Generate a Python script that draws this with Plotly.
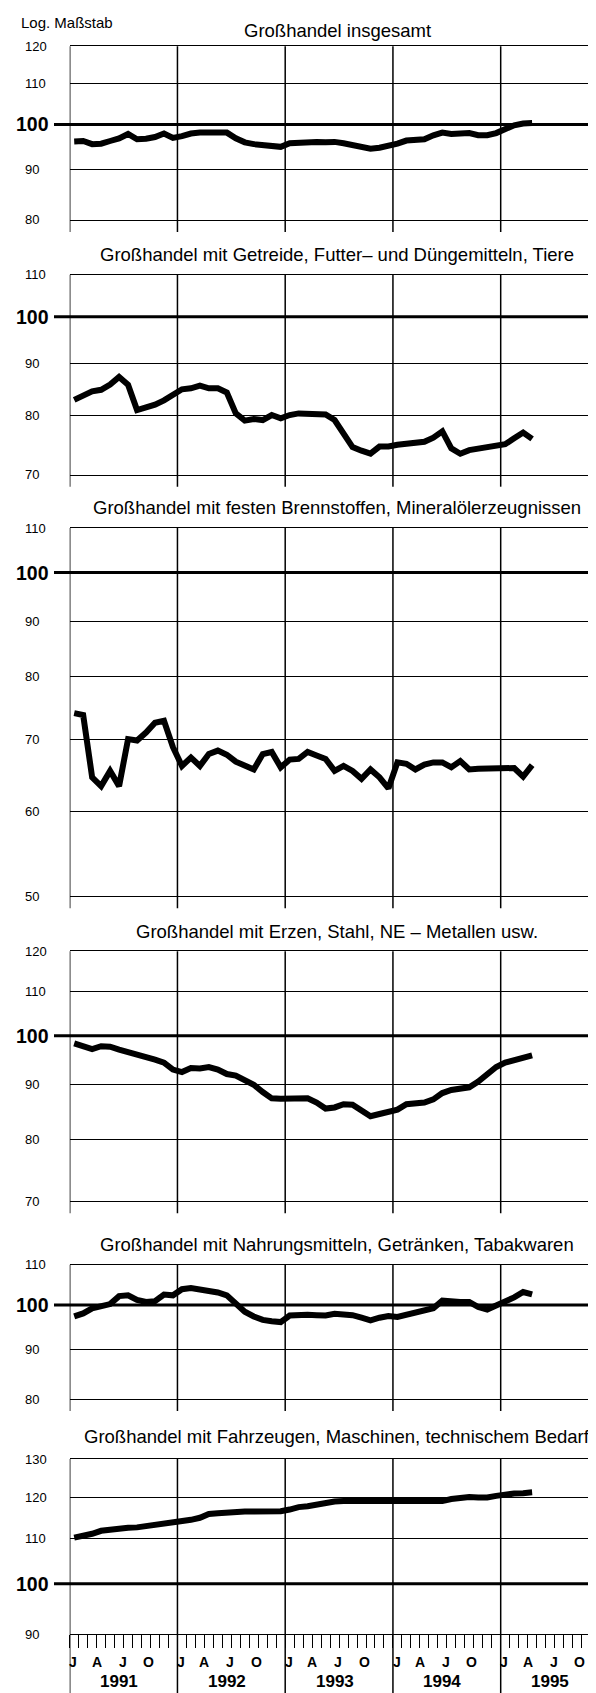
import math
import pandas as pd
import plotly.graph_objects as go

# ---------------- data ----------------
months = pd.period_range("1991-01", "1995-04", freq="M")
years = [1991, 1992, 1993, 1994, 1995]
month_labels = ["J", "A", "J", "O"]

insgesamt = [96.1, 96.2, 95.5, 95.6, 96.2, 96.8, 97.8, 96.6, 96.7, 97.1,
             97.9, 96.9, 97.3, 97.9, 98.1, 98.2, 98.3, 98.1, 96.8, 95.9,
             95.5, 95.4, 95.3, 94.9, 95.7, 95.9, 96.0, 96.0, 95.9, 96.0,
             95.7, 95.3, 94.8, 94.5, 94.7, 95.0, 95.6, 96.3, 96.4, 96.6,
             97.5, 98.1, 97.8, 97.9, 98.0, 97.5, 97.5, 98.0, 99.0, 99.8,
             100.2, 100.3]
getreide = [82.9, 83.8, 84.5, 84.8, 85.8, 87.3, 85.8, 81.0, 81.5, 82.0,
            82.8, 83.7, 84.9, 85.1, 85.6, 85.1, 85.1, 84.3, 80.4, 79.1,
            79.4, 79.2, 80.1, 79.5, 80.1, 80.4, 80.4, 80.3, 80.2, 79.2,
            76.6, 74.5, 73.9, 73.4, 74.6, 74.6, 74.9, 75.0, 75.2, 75.4,
            76.1, 77.2, 74.3, 73.4, 74.0, 74.2, 74.4, 74.6, 75.0, 76.0,
            77.0, 75.9]
brennstoffe = [74.0, 73.7, 64.5, 63.3, 65.4, 63.3, 70.0, 69.8, 71.0, 72.5,
               72.8, 68.8, 66.1, 67.3, 66.1, 67.8, 68.3, 67.7, 66.7, 66.1,
               65.6, 67.8, 68.1, 65.9, 67.0, 67.1, 68.1, 67.6, 67.1, 65.4,
               66.1, 65.4, 64.3, 65.6, 64.5, 63.0, 66.6, 66.4, 65.6, 66.3,
               66.6, 66.6, 65.9, 66.8, 65.6, 65.7, 65.7, 65.8, 65.8, 65.8,
               64.6, 66.2]
erze = [98.4, 97.7, 97.2, 97.8, 97.7, 97.1, 96.6, 96.1, 95.8, 95.0,
        94.4, 93.0, 92.5, 93.3, 93.2, 93.5, 93.0, 92.1, 91.8, 90.9,
        90.0, 88.6, 87.4, 87.3, 87.3, 87.3, 87.4, 86.6, 85.5, 85.7,
        86.3, 86.2, 85.0, 84.1, 84.5, 84.8, 85.3, 86.3, 86.4, 86.6,
        87.2, 88.4, 89.0, 89.2, 89.5, 90.6, 92.0, 93.5, 94.4, 94.9,
        95.7, 95.9]
nahrung = [97.3, 98.0, 99.2, 99.7, 100.2, 102.1, 102.3, 101.2, 100.7, 100.9,
           102.5, 102.3, 103.8, 104.1, 103.8, 103.5, 103.0, 102.3, 100.2, 98.4,
           97.3, 96.5, 96.2, 96.0, 97.5, 97.7, 97.7, 97.6, 97.5, 97.9,
           97.9, 97.6, 97.0, 96.4, 97.0, 97.4, 97.2, 97.7, 98.2, 98.5,
           99.2, 101.0, 100.7, 100.7, 100.7, 99.5, 98.9, 99.8, 100.7, 101.8,
           103.1, 102.5]
fahrzeuge = [110.2, 110.5, 111.1, 111.8, 112.1, 112.3, 112.5, 112.6, 112.9, 113.3,
             113.4, 113.6, 113.9, 114.4, 114.9, 115.8, 116.0, 116.2, 116.3, 116.4,
             116.4, 116.4, 116.4, 116.5, 116.9, 117.5, 117.7, 118.2, 118.6, 118.9,
             119.0, 119.0, 119.0, 119.0, 119.0, 119.0, 118.9, 118.9, 118.9, 119.0,
             119.0, 119.0, 119.5, 119.8, 120.0, 119.9, 119.9, 120.3, 120.7, 120.9,
             121.0, 121.2]

titles = [
    "Großhandel insgesamt",
    "Großhandel mit Getreide, Futter– und Düngemitteln, Tiere",
    "Großhandel mit festen Brennstoffen, Mineralölerzeugnissen",
    "Großhandel mit Erzen, Stahl, NE – Metallen usw.",
    "Großhandel mit Nahrungsmitteln, Getränken, Tabakwaren",
    "Großhandel mit Fahrzeugen, Maschinen, technischem Bedarf",
]
series = [insgesamt, getreide, brennstoffe, erze, nahrung, fahrzeuge]
grid_levels = [
    [80, 90, 100, 110, 120],
    [70, 80, 90, 100, 110],
    [50, 60, 70, 80, 90, 100, 110],
    [70, 80, 90, 100, 110, 120],
    [80, 90, 100, 110],
    [90, 100, 110, 120, 130],
]
scale_note = "Log. Maßstab"

# ---------------- layout geometry (pixels) ----------------
W, H = 596, 1693
X0 = 61.7            # left edge of plot area
MONTH_PX = 8.979     # width of one month
panel_px = [(38.3, 212.0), (266.7, 466.7), (520.0, 888.3),
            (943.3, 1193.3), (1256.7, 1391.0), (1451.0, 1626.0)]
title_px = [22.0, 246.0, 499.5, 923.0, 1236.0, 1428.5]
EXT = 12             # vertical grid lines hang below each panel
FONT = "Liberation Sans, Arial, sans-serif"
TITLE_X = 329

x_max = (W - X0) / MONTH_PX
x_pos = [(p.year - years[0]) * 12 + (p.month - 1) + 0.5 for p in months]
year_starts = [(y - years[0]) * 12 for y in years]
month_offsets = [0.4, 3.0, 5.9, 8.8]


def py(px):
    return 1 - px / H


fig = go.Figure()
shapes = []
annotations = []
n = len(series)

for k in range(1, n + 1):
    top, bot = panel_px[k - 1]
    levels = grid_levels[k - 1]
    xr = "x" if k == 1 else f"x{k}"
    yr = "y" if k == 1 else f"y{k}"
    xa = "xaxis" if k == 1 else f"xaxis{k}"
    ya = "yaxis" if k == 1 else f"yaxis{k}"
    last = k == n

    fig.add_trace(go.Scatter(
        x=x_pos, y=series[k - 1], mode="lines", xaxis=xr, yaxis=yr,
        line=dict(color="black", width=6), showlegend=False,
        hoverinfo="skip"))

    fig.update_layout(**{
        xa: dict(domain=[X0 / W, 1], range=[0, x_max], anchor=yr,
                 showgrid=False, zeroline=False, showticklabels=False,
                 showline=True, mirror=True, linecolor="black", linewidth=1.3,
                 ticks="outside" if last else "",
                 tickmode="array", tickvals=list(range(0, 61)),
                 ticklen=13, tickwidth=1.3, tickcolor="black",
                 fixedrange=True),
        ya: dict(type="log", domain=[py(bot), py(top)],
                 range=[math.log10(min(levels)), math.log10(max(levels))],
                 anchor=xr, showgrid=True, gridcolor="black", gridwidth=1.3,
                 tickmode="array", tickvals=[v for v in levels if v != 100],
                 showticklabels=False, ticks="", zeroline=False,
                 showline=False, fixedrange=True),
    })

    # heavy 100 line reaching past the axis
    shapes.append(dict(type="line", xref="paper", yref=yr,
                       x0=46 / W, x1=1, y0=100, y1=100,
                       line=dict(color="black", width=3), layer="below"))

    # year separators
    y_low = 0 if last else py(bot + EXT)
    for b in year_starts:
        shapes.append(dict(type="line", xref=xr, yref="paper",
                           x0=b, x1=b, y0=y_low, y1=py(top),
                           line=dict(color="black", width=1.5), layer="below"))

    # y tick labels
    for v in levels:
        if v == 100:
            annotations.append(dict(
                xref="paper", yref=yr, x=6 / W, y=math.log10(v),
                xanchor="left", yanchor="middle", showarrow=False,
                text="<b>100</b>", font=dict(family=FONT, size=19.5, color="black")))
        else:
            annotations.append(dict(
                xref="paper", yref=yr, x=15 / W, y=math.log10(v),
                xanchor="left", yanchor="middle", showarrow=False,
                text=str(v), font=dict(family=FONT, size=13, color="black")))

    # panel title
    annotations.append(dict(
        xref="paper", yref="paper", x=TITLE_X / W, y=py(title_px[k - 1]),
        xanchor="center", yanchor="middle", showarrow=False,
        text=titles[k - 1], font=dict(family=FONT, size=18.5, color="black")))

    if last:
        for yi, ys in enumerate(year_starts):
            for lab, off in zip(month_labels, month_offsets):
                annotations.append(dict(
                    xref=xr, yref="paper", x=ys + off, y=py(1654),
                    xanchor="center", yanchor="middle", showarrow=False,
                    text=f"<b>{lab}</b>",
                    font=dict(family=FONT, size=14, color="black")))
            annotations.append(dict(
                xref=xr, yref="paper", x=ys + 5.5, y=py(1673),
                xanchor="center", yanchor="middle", showarrow=False,
                text=f"<b>{years[yi]}</b>",
                font=dict(family=FONT, size=17, color="black")))

annotations.append(dict(
    xref="paper", yref="paper", x=11 / W, y=py(14),
    xanchor="left", yanchor="middle", showarrow=False,
    text=scale_note, font=dict(family=FONT, size=15, color="black")))

fig.update_layout(
    width=W, height=H,
    margin=dict(l=0, r=0, t=0, b=0),
    paper_bgcolor="white", plot_bgcolor="rgba(0,0,0,0)",
    shapes=shapes, annotations=annotations,
    showlegend=False,
    font=dict(family=FONT, color="black"),
)

fig.write_html("out.html")
